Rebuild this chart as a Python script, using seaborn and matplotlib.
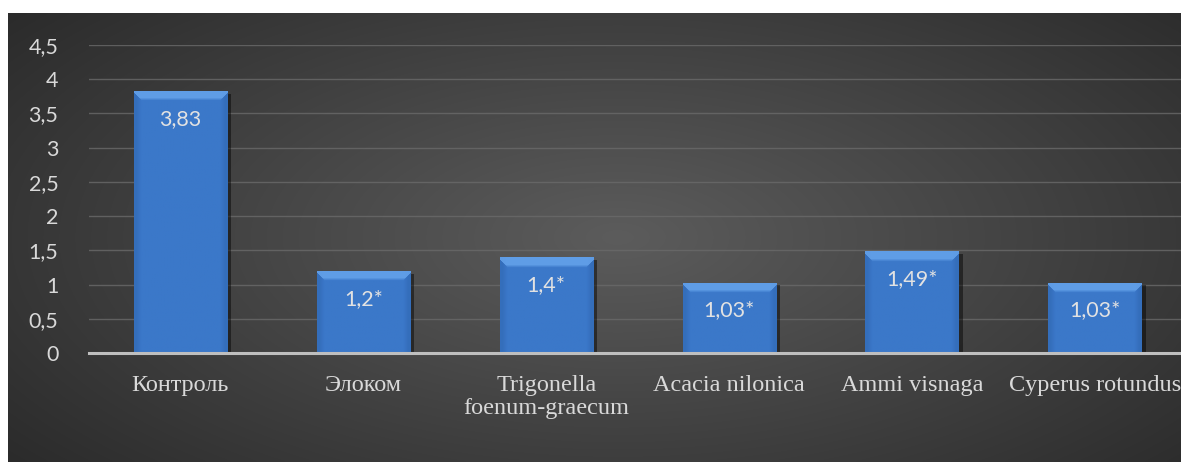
import numpy as np
import matplotlib
matplotlib.use("Agg")
import matplotlib.pyplot as plt
import matplotlib.patheffects as pe
from matplotlib.colors import to_rgb
import seaborn as sns

categories = ["Контроль", "Элоком", "Trigonella\nfoenum-graecum", "Acacia nilonica", "Ammi visnaga", "Cyperus rotundus"]
values = [3.83, 1.2, 1.4, 1.03, 1.49, 1.03]
value_labels = ["3,83", "1,2*", "1,4*", "1,03*", "1,49*", "1,03*"]
yticks = [0, 0.5, 1, 1.5, 2, 2.5, 3, 3.5, 4, 4.5]
ytick_labels = ["0", "0,5", "1", "1,5", "2", "2,5", "3", "3,5", "4", "4,5"]

W, H = 1181, 462
fig = plt.figure(figsize=(W / 100, H / 100), dpi=100)
fig.patch.set_facecolor("white")

# background radial gradient
bg = fig.add_axes([8 / W, 0, 1 - 8 / W, (H - 13) / H], zorder=0)
yy, xx = np.mgrid[0:1:200j, 0:1:400j]
r = np.sqrt(((xx - 0.52) / 0.75) ** 2 + ((yy - 0.5) / 0.9) ** 2)
r = np.clip(r, 0, 1)
c_in = np.array([0x5c, 0x5c, 0x5c]) / 255
c_out = np.array([0x25, 0x25, 0x25]) / 255
img = c_in[None, None, :] * (1 - r[..., None]) + c_out[None, None, :] * r[..., None]
bg.imshow(img, aspect="auto", extent=[0, 1, 0, 1], interpolation="bilinear")
bg.axis("off")

ax = fig.add_axes([89 / W, (H - 353) / H, 1 - 89 / W, 308 / H], zorder=1)
ax.patch.set_alpha(0)

sns.barplot(x=categories, y=values, color="#3b78c9", saturation=1, width=0.51, ax=ax, zorder=3)

ax.set_xlim(-0.5, 5.47)
ax.set_ylim(0, 4.5)
ax.set_yticks(yticks)
ax.set_yticklabels(ytick_labels, fontfamily="Lato", fontsize=15.5, color="#d9d9d9")
ax.tick_params(axis="y", length=0, pad=22)
ax.tick_params(axis="x", length=0, pad=16)
for t in ax.get_xticklabels():
    t.set_fontfamily("Liberation Serif")
    t.set_fontsize(17.5)
    t.set_color("#d9d9d9")
    t.set_linespacing(1.1)
ax.set_xlabel("")
ax.set_ylabel("")
ax.grid(axis="y", color="#6a6a6a", linewidth=1.0, alpha=0.8, zorder=0)
ax.set_axisbelow(True)
for s in ["top", "right", "left"]:
    ax.spines[s].set_visible(False)
ax.spines["bottom"].set_color("#bfbfbf")
ax.spines["bottom"].set_linewidth(2.2)
ax.spines["bottom"].set_zorder(5)

# bevel shading for bars
base = np.array(to_rgb("#3b78c9"))
light = np.array(to_rgb("#66a4ec"))
dark = np.array(to_rgb("#2d62aa"))
for p in ax.patches:
    p.set_path_effects([pe.SimplePatchShadow(offset=(3, -2), shadow_rgbFace="black", alpha=0.45), pe.Normal()])
    x0, y0 = p.get_x(), p.get_y()
    w, h = p.get_width(), p.get_height()
    hp = max(int(h * 68.4), 2)
    wp = 93
    gy, gx = np.mgrid[0:hp, 0:wp]
    g = np.tile(base, (hp, wp, 1)).astype(float)
    edge = np.minimum(gx, wp - 1 - gx)
    side = np.clip(1 - (edge - 2) / 5, 0, 1)[..., None]
    g = g * (1 - 0.45 * side) + dark * 0.45 * side
    # top bevel with diagonal corners
    bev = np.clip((10 - gy) / 3, 0, 1) * ((gy <= edge + 2))
    top = bev[..., None]
    g = g * (1 - 0.85 * top) + light * 0.85 * top
    im = ax.imshow(g, extent=[x0, x0 + w, y0, y0 + h], origin="upper", aspect="auto", zorder=4, interpolation="bilinear")
    im.set_clip_path(p)

ax.set_xlim(-0.5, 5.47)
ax.set_ylim(0, 4.5)

for p, lab in zip(ax.patches, value_labels):
    ax.annotate(lab, (p.get_x() + p.get_width() / 2, p.get_height()), xytext=(0, -28),
                textcoords="offset pixels", ha="center", va="center",
                fontfamily="Lato", fontsize=15.5, color="#e2e2e2", zorder=6)

fig.savefig("out.png", dpi=100, facecolor="white")
